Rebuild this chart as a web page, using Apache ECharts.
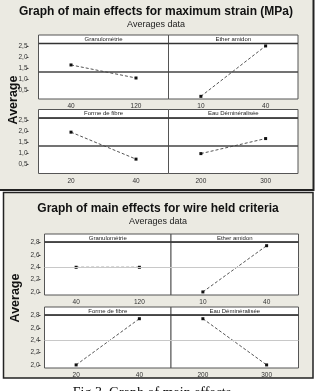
<!DOCTYPE html>
<html>
<head>
<meta charset="utf-8">
<script src="https://cdn.jsdelivr.net/npm/echarts@6/dist/echarts.min.js"></script>
<style>
  html, body { margin: 0; padding: 0; background: #fff; }
  #chart { width: 316px; height: 391px; }
</style>
</head>
<body>
<div id="chart"></div>
<script>
(function() {
  // --- data ---
  var factors = ['Granulométrie', 'Ether amidon', 'Forme de fibre', 'Eau Déminéralisée'];
  var levels = [['40', '120'], ['10', '40'], ['20', '40'], ['200', '300']];
  var strainMeans = [[1.64, 1.05], [0.22, 2.5], [1.97, 0.75], [1.0, 1.68]];
  var wireMeans = [[2.4, 2.4], [2.0, 2.75], [2.0, 2.75], [2.75, 2.0]];
  var strainGrand = 1.35;
  var wireGrand = 2.4;
  var strainTicks = [0.5, 1.0, 1.5, 2.0, 2.5];
  var wireTicks = [2.0, 2.2, 2.4, 2.6, 2.8];

  var bg = '#ebeae2';
  var ink = '#222';
  var frame = '#555';

  var grids = [], xAxes = [], yAxes = [], series = [], graphics = [];

  function fmt(v) { return v.toFixed(1).replace('.', ','); }

  function addPanel(p) {
    for (var i = 0; i < 4; i++) {
      var row = Math.floor(i / 2), col = i % 2;
      var gi = grids.length;
      var left = col ? p.mid : p.left;
      var width = col ? p.right - p.mid : p.mid - p.left;
      var top = p.rows[row];
      grids.push({
        left: left, top: top, width: width, height: p.h,
        show: true, backgroundColor: '#fff', borderColor: frame, borderWidth: 1
      });
      xAxes.push({
        gridIndex: gi, type: 'category', data: levels[i], boundaryGap: true,
        axisLine: { show: false },
        axisTick: { alignWithLabel: true, length: 2, lineStyle: { color: '#444' } },
        axisLabel: { fontSize: 6.5, color: '#333', margin: 4, fontFamily: 'Liberation Sans' },
        splitLine: { show: false }
      });
      yAxes.push({
        gridIndex: gi, type: 'value', min: p.min, max: p.max, offset: p.off,
        axisLine: { show: false },
        splitLine: { show: false },
        axisTick: { show: col === 0, length: 2, customValues: p.ticks, lineStyle: { color: '#444' } },
        axisLabel: {
          show: col === 0, customValues: p.ticks, formatter: fmt,
          fontSize: 6.5, color: '#333', margin: 1, fontFamily: 'Liberation Sans'
        }
      });
      series.push({
        type: 'line', xAxisIndex: gi, yAxisIndex: gi, data: p.data[i],
        symbol: 'rect', symbolSize: 3,
        itemStyle: { color: '#111' },
        lineStyle: { color: '#555', width: 1, type: [3, 2] },
        markLine: {
          silent: true, symbol: 'none', label: { show: false },
          lineStyle: { color: p.meanColor, width: p.meanWidth, type: 'solid' },
          data: [{ yAxis: p.grand }]
        },
        z: 3
      });
      // header strip above each panel
      graphics.push({
        type: 'rect', z: 5,
        shape: { x: left, y: top - p.hh, width: width, height: p.hh },
        style: { fill: '#fff', stroke: frame, lineWidth: 1 }
      });
      graphics.push({
        type: 'line', z: 6,
        shape: { x1: left, y1: top, x2: left + width, y2: top },
        style: { stroke: '#333', lineWidth: 1.5 }
      });
      graphics.push({
        type: 'text', z: 7, x: left + width / 2, y: top - p.hh / 2,
        style: {
          text: factors[i], fill: ink, font: '6px "Liberation Sans"',
          align: 'center', verticalAlign: 'middle'
        }
      });
    }
    graphics.push({
      type: 'text', z: 7, x: p.cx, y: p.titleY,
      style: {
        text: p.title, fill: '#111', font: 'bold 12px "Liberation Sans"',
        align: 'center', verticalAlign: 'middle'
      }
    });
    graphics.push({
      type: 'text', z: 7, x: p.cx, y: p.titleY + 13,
      style: {
        text: 'Averages data', fill: '#222', font: '9px "Liberation Sans"',
        align: 'center', verticalAlign: 'middle'
      }
    });
    graphics.push({
      type: 'text', z: 7, x: p.ax, y: p.ay, rotation: Math.PI / 2,
      style: {
        text: 'Average', fill: '#111', font: 'bold 12.5px "Liberation Sans"',
        align: 'center', verticalAlign: 'middle'
      }
    });
  }

  // panel backgrounds
  graphics.push({
    type: 'rect', z: -10,
    shape: { x: -1, y: -1, width: 314.5, height: 191 },
    style: { fill: bg, stroke: '#222', lineWidth: 2 }
  });
  graphics.push({
    type: 'rect', z: -10,
    shape: { x: 3.5, y: 192.5, width: 309.5, height: 185.5 },
    style: { fill: bg, stroke: '#222', lineWidth: 1.5 }
  });

  addPanel({
    title: 'Graph of main effects for maximum strain (MPa)', titleY: 12, cx: 156,
    left: 38.5, mid: 168.5, right: 298, rows: [43.5, 118], h: 55.5, hh: 8.5,
    min: 0.1, max: 2.61, off: 10, ticks: strainTicks, data: strainMeans,
    grand: strainGrand, meanColor: '#444', meanWidth: 1.5, ax: 14, ay: 100
  });
  addPanel({
    title: 'Graph of main effects for wire held criteria', titleY: 209, cx: 158,
    left: 44.5, mid: 171, right: 298.5, rows: [242, 315], h: 53, hh: 8,
    min: 1.95, max: 2.81, off: 4, ticks: wireTicks, data: wireMeans,
    grand: wireGrand, meanColor: '#c8c8c8', meanWidth: 1, ax: 16, ay: 298
  });

  graphics.push({
    type: 'text', z: 7, x: 152, y: 386,
    style: {
      text: 'Fig 3. Graph of main effects', fill: '#111', font: '14px "Liberation Serif"',
      align: 'center', verticalAlign: 'top'
    }
  });

  var chart = echarts.init(document.getElementById('chart'), null, { renderer: 'canvas' });
  chart.setOption({
    animation: false,
    backgroundColor: '#fff',
    grid: grids,
    xAxis: xAxes,
    yAxis: yAxes,
    series: series,
    graphic: { elements: graphics }
  });
  window.addEventListener('resize', function() { chart.resize(); });
})();
</script>
</body>
</html>
